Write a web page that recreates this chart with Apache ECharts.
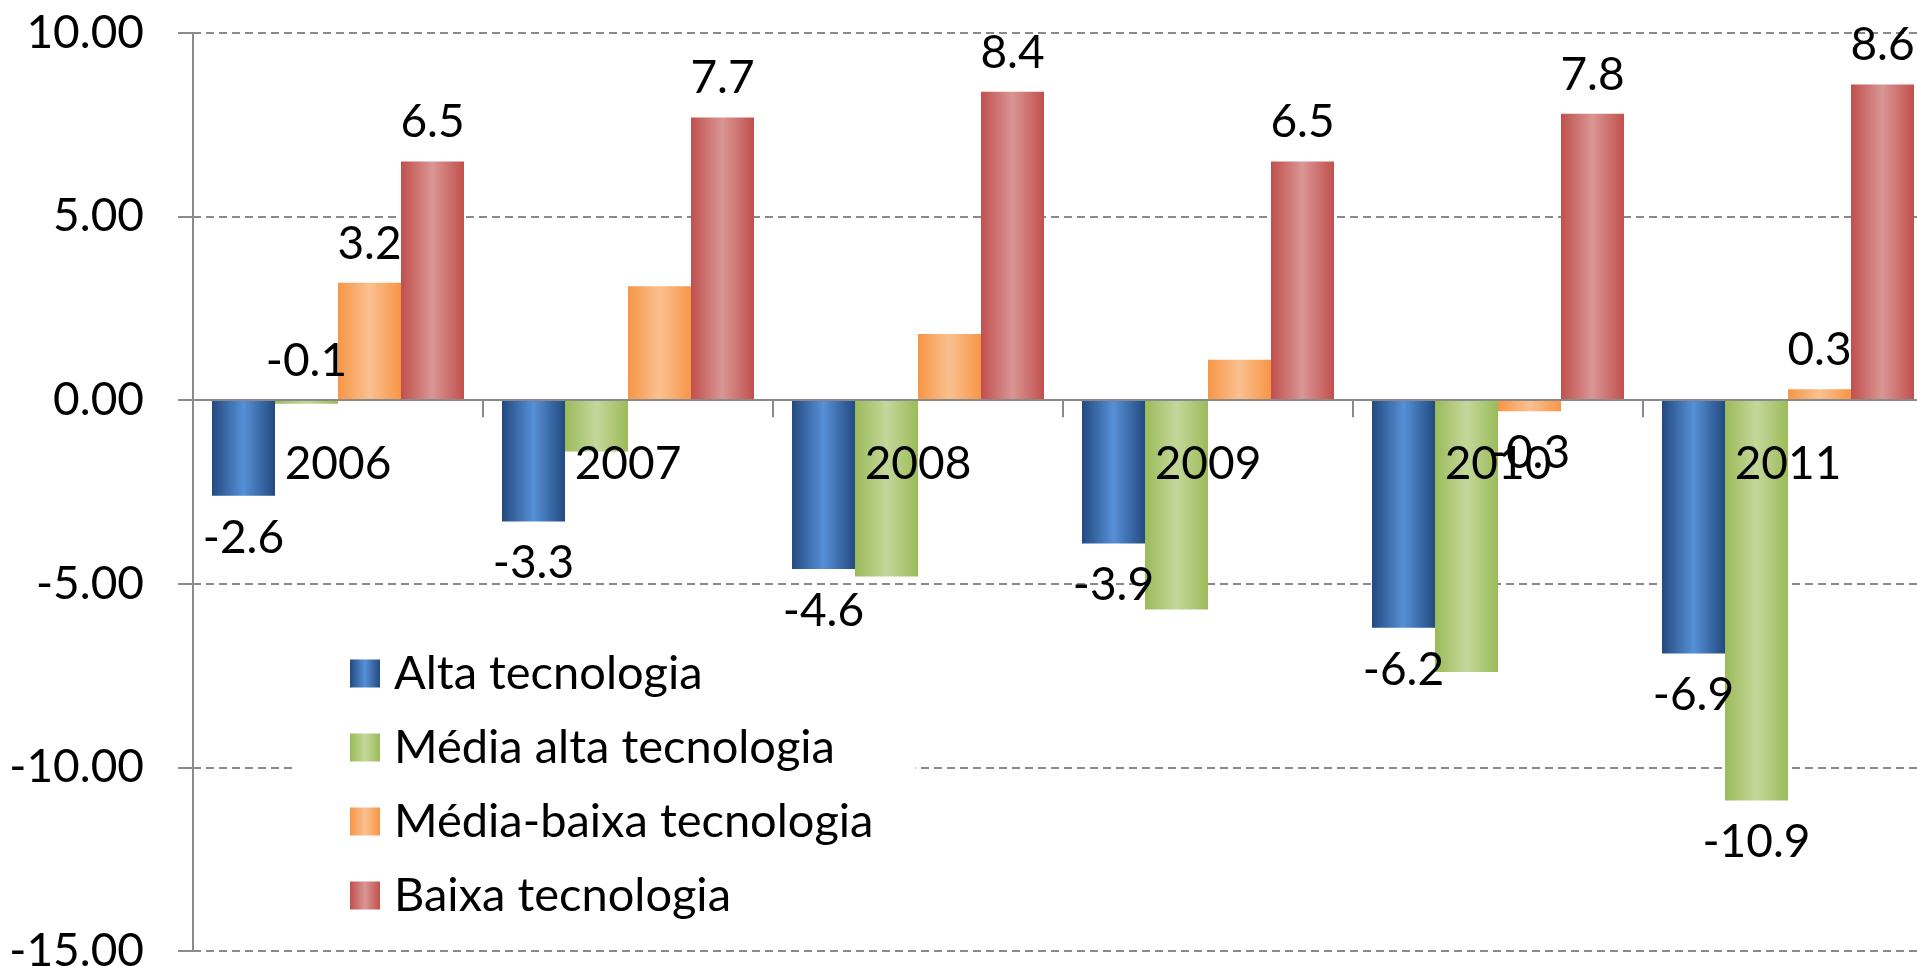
<!DOCTYPE html>
<html>
<head>
<meta charset="utf-8">
<script src="https://cdn.jsdelivr.net/npm/echarts@6/dist/echarts.min.js"></script>
<style>
  html, body { margin: 0; padding: 0; background: #fff; }
  #main { width: 1917px; height: 966px; }
</style>
</head>
<body>
<div id="main"></div>
<script>
// anos
var years = ["2006", "2007", "2008", "2009", "2010", "2011"];

// valores por intensidade tecnologica
var alta = [-2.6, -3.3, -4.6, -3.9, -6.2, -6.9];
var mediaAlta = [-0.1, -1.4, -4.8, -5.7, -7.4, -10.9];
var mediaBaixa = [3.2, 3.1, 1.8, 1.1, -0.3, 0.3];
var baixa = [6.5, 7.7, 8.4, 6.5, 7.8, 8.6];

// quais rotulos aparecem no grafico original
var altaLabels = [1, 1, 1, 1, 1, 1];
var mediaAltaLabels = [1, 0, 0, 0, 0, 1];
var mediaBaixaLabels = [1, 0, 0, 0, 1, 1];
var baixaLabels = [1, 1, 1, 1, 1, 1];

var yTicks = { min: -15, max: 10, step: 5 };

var font = "Lato";
var grey = "#8a8a8a";

var W = 1917, H = 966;
var gridTop = 33, gridBottom = 15;
// eixo x fica na linha do zero
var zeroOffset = -(H - gridBottom - gridTop) * (0 - yTicks.min) / (yTicks.max - yTicks.min);

function grad(edge, mid) {
  return new echarts.graphic.LinearGradient(0, 0, 1, 0, [
    { offset: 0, color: edge },
    { offset: 0.5, color: mid },
    { offset: 1, color: edge }
  ]);
}

function makeData(values, shown) {
  return values.map(function (v, i) {
    return {
      value: v,
      label: {
        show: !!shown[i],
        // valores quase nulos ficam acima do eixo
        position: v > -0.2 ? "top" : "bottom",
        distance: v > -0.2 ? 16 : 19
      }
    };
  });
}

function makeSeries(name, values, shown, edge, mid) {
  return {
    name: name,
    type: "bar",
    barWidth: 63,
    barGap: "0%",
    itemStyle: { color: grad(edge, mid) },
    label: {
      color: "#000",
      fontFamily: font,
      fontSize: 46,
      formatter: function (p) { return p.value.toFixed(1); }
    },
    data: makeData(values, shown)
  };
}

var myChart = echarts.init(document.getElementById("main"));
var option = {
  animation: false,
  grid: { left: 193, right: -16, top: gridTop, bottom: gridBottom, outerBoundsMode: "none", containLabel: false },
  legend: {
    orient: "vertical",
    left: 293,
    top: 630,
    padding: [20, 42, 20, 57],
    backgroundColor: "#fff",
    icon: "rect",
    itemWidth: 30,
    itemHeight: 28,
    itemGap: 27,
    textStyle: { color: "#000", fontFamily: font, fontSize: 47, padding: [0, 0, 0, 9] },
    data: ["Alta tecnologia", "Média alta tecnologia", "Média-baixa tecnologia", "Baixa tecnologia"]
  },
  xAxis: {
    type: "category",
    data: years,
    z: 10,
    offset: zeroOffset,
    axisLine: { onZero: false, lineStyle: { color: grey, width: 2 } },
    axisTick: { show: true, length: 17, lineStyle: { color: grey, width: 2 } },
    axisLabel: { color: "#000", fontFamily: font, fontSize: 46, margin: 41 }
  },
  yAxis: {
    type: "value",
    min: yTicks.min,
    max: yTicks.max,
    interval: yTicks.step,
    axisLine: { show: true, lineStyle: { color: grey, width: 2 } },
    axisTick: { show: true, length: 15, lineStyle: { color: grey, width: 2 } },
    axisLabel: {
      color: "#000",
      fontFamily: font,
      fontSize: 46,
      margin: 49,
      formatter: function (v) { return v.toFixed(2); }
    },
    splitLine: { lineStyle: { color: grey, width: 2, type: [8, 5] } }
  },
  series: [
    makeSeries("Alta tecnologia", alta, altaLabels, "#234a80", "#5690d7"),
    makeSeries("Média alta tecnologia", mediaAlta, mediaAltaLabels, "#9bbb59", "#c4d79b"),
    makeSeries("Média-baixa tecnologia", mediaBaixa, mediaBaixaLabels, "#f79646", "#fac090"),
    makeSeries("Baixa tecnologia", baixa, baixaLabels, "#c0504d", "#d99694")
  ]
};
option && myChart.setOption(option);
</script>
</body>
</html>
